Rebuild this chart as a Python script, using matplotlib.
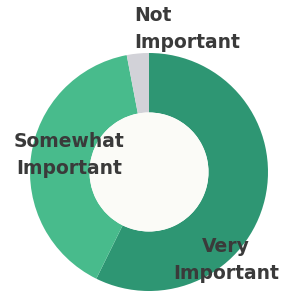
import matplotlib.pyplot as plt
from matplotlib.patches import Circle

# Datos del gráfico (porcentajes aproximados)
labels = ['Very\nImportant', 'Somewhat\nImportant', 'Not\nImportant']
values = [57.3, 39.7, 3.0]
colors = ['#2e9673', '#48bb8c', '#d2d2d8']

W, H = 283, 291
fig = plt.figure(figsize=(W / 100, H / 100), dpi=100)
ax = fig.add_axes([0, 0, 1, 1])

cx, cy, r = 149, H - 172, 119

# Dona, empezando arriba y en sentido horario
ax.pie(values, colors=colors, startangle=90, counterclock=False,
       radius=r, center=(cx, cy), frame=True,
       wedgeprops=dict(width=r * 0.5, linewidth=0))
ax.add_patch(Circle((cx, cy), r * 0.5, facecolor='#fbfbf7', edgecolor='none', zorder=3))

ax.set_xlim(0, W)
ax.set_ylim(0, H)
ax.axis('off')

# Etiquetas
txt = dict(color='#3a3a3a', fontsize=13.5, fontweight='bold', va='center',
           linespacing=1.5, zorder=5)
ax.text(226, H - 260, labels[0], ha='center', multialignment='center', **txt)
ax.text(69, H - 155, labels[1], ha='center', multialignment='center', **txt)
ax.text(134, H - 29, labels[2], ha='left', multialignment='left', **txt)

fig.savefig('out.png', dpi=100, facecolor='white')
